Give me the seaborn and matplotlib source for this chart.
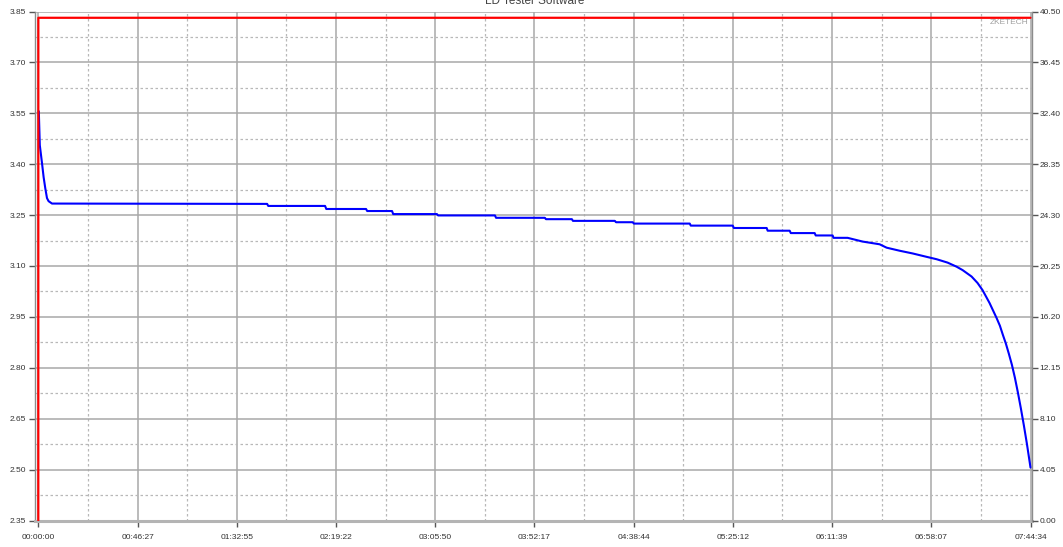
import matplotlib
matplotlib.use("Agg")
import matplotlib.pyplot as plt
import seaborn as sns
import pandas as pd
from matplotlib.ticker import FixedLocator, FormatStrFormatter

# discharge voltage (left axis), time in seconds
volt_time = [14, 42, 104, 149, 196, 244, 289, 385,
             6428, 6460, 8056, 8090, 9207, 9240, 9937, 9970,
             11200, 11230, 12828, 12860, 14231, 14260, 14989, 15020,
             16196, 16230, 16701, 16730, 18301, 18330, 19508, 19540,
             20462, 20490, 21108, 21140, 21810, 21840, 22315, 22340,
             22736, 23158, 23635, 23832, 24197, 24562, 24955, 25235,
             25544, 25797, 25965, 26218, 26386, 26526, 26723, 26920,
             27014, 27098, 27183, 27267, 27351, 27435, 27520, 27604,
             27688, 27773, 27874]
volt_value = [3.556, 3.456, 3.403, 3.362, 3.329, 3.300, 3.291, 3.284,
              3.283, 3.277, 3.277, 3.268, 3.268, 3.262, 3.262, 3.253,
              3.253, 3.249, 3.249, 3.242, 3.242, 3.238, 3.238, 3.233,
              3.233, 3.229, 3.229, 3.225, 3.225, 3.219, 3.219, 3.212,
              3.212, 3.204, 3.204, 3.197, 3.197, 3.190, 3.190, 3.183,
              3.183, 3.172, 3.164, 3.154, 3.145, 3.137, 3.127, 3.120,
              3.110, 3.098, 3.088, 3.069, 3.050, 3.029, 2.991, 2.947,
              2.924, 2.897, 2.871, 2.841, 2.809, 2.771, 2.727, 2.680,
              2.630, 2.576, 2.506]

# red trace (right axis)
red_time = [0, 1, 27874]
red_value = [0.0, 40.0, 40.0]

total_sec = 27874
x_tick_labels = ['00:00:00', '00:46:27', '01:32:55', '02:19:22', '03:05:50',
                 '03:52:17', '04:38:44', '05:25:12', '06:11:39', '06:58:07',
                 '07:44:34']

sns.set_style('white')
plt.rcParams['font.family'] = ['Liberation Sans', 'DejaVu Sans']

fig = plt.figure(figsize=(10.63, 5.47), dpi=100)
ax = fig.add_axes([35 / 1063, 1 - 520.5 / 547, (1032 - 35) / 1063, (520.5 - 11.5) / 547])

df_v = pd.DataFrame({'t': volt_time, 'v': volt_value})
df_r = pd.DataFrame({'t': red_time, 'v': red_value})

sns.lineplot(data=df_v, x='t', y='v', ax=ax, color='#0000ff', linewidth=1.5,
             estimator=None, sort=False, zorder=5)

ax2 = ax.twinx()
sns.lineplot(data=df_r, x='t', y='v', ax=ax2, color='#ff0000', linewidth=1.6,
             estimator=None, sort=False, zorder=6)

step = total_sec / 10
ax.set_xlim(-93, total_sec + 42)
ax.set_ylim(2.35, 3.85)
ax2.set_ylim(0, 40.5)

ax.xaxis.set_major_locator(FixedLocator([i * step for i in range(11)]))
ax.xaxis.set_minor_locator(FixedLocator([(i + 0.5) * step for i in range(10)]))
ax.set_xticklabels(x_tick_labels)
ax.yaxis.set_major_locator(FixedLocator([2.35 + 0.15 * i for i in range(11)]))
ax.yaxis.set_minor_locator(FixedLocator([2.425 + 0.15 * i for i in range(10)]))
ax.yaxis.set_major_formatter(FormatStrFormatter('%.2f'))
ax2.yaxis.set_major_locator(FixedLocator([4.05 * i for i in range(11)]))
ax2.yaxis.set_major_formatter(FormatStrFormatter('%.2f'))

ax.grid(which='major', color='#a8a8a8', linewidth=1.1, linestyle='-')
ax.grid(which='minor', color='#b8b8b8', linewidth=0.9, linestyle=(0, (2, 2)))
ax2.grid(False)
ax.set_axisbelow(True)

ax.set_xlabel('')
ax.set_ylabel('')
ax2.set_ylabel('')

for a in (ax, ax2):
    a.spines['top'].set_visible(False)
ax.spines['right'].set_visible(False)
ax2.spines['left'].set_visible(False)
ax2.spines['bottom'].set_visible(False)
ax.spines['left'].set_color('#8c8c8c')
ax.spines['left'].set_linewidth(1.0)
ax.spines['bottom'].set_color('#b4b4b4')
ax.spines['bottom'].set_linewidth(2.2)
ax2.spines['right'].set_color('#8c8c8c')
ax2.spines['right'].set_linewidth(1.0)

ax.tick_params(axis='both', which='major', direction='out', length=4, width=1,
               color='#555555', labelsize=6, labelcolor='#333333')
ax.tick_params(axis='y', pad=2.5, left=True)
ax.tick_params(axis='x', pad=6, bottom=True)
ax.tick_params(which='minor', length=0)
ax2.tick_params(axis='y', direction='out', length=4, width=1, color='#555555',
                labelsize=6, labelcolor='#333333', pad=1.5, right=True)

ax.text(0.9965, 0.985, 'ZKETECH', transform=ax.transAxes, ha='right', va='top',
        fontsize=6, color='#a0a0a0')

fig.text(534.5 / 1063, 1 - 4 / 547, 'LD Tester Software', ha='center',
         va='baseline', fontsize=8.5, color='#444444')

fig.savefig('out.png', dpi=100)
